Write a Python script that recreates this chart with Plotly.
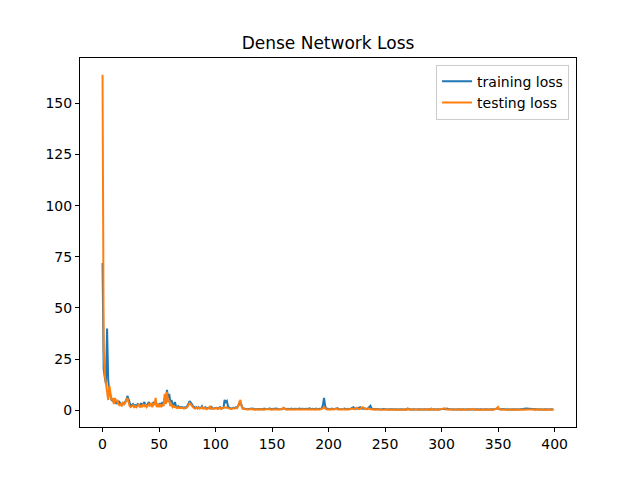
import plotly.graph_objects as go

# loss per epoch
train_loss = [
    72, 20, 16, 13, 40, 15, 9, 6, 5, 4.5, 5, 4, 3.5, 5, 3, 4, 3, 2.5, 3.5, 3,
    4, 5, 7, 5, 3, 2, 2.5, 3, 2, 2.5, 2, 3, 2.5, 2, 3.5, 2, 3, 4, 2.5, 2,
    3, 4, 2.5, 3, 2, 4, 3, 4.5, 2, 3, 2, 3.5, 2, 4, 3, 6, 4, 10, 6, 8,
    4, 5, 3, 2.5, 4, 2, 1.5, 2, 1.5, 1.5, 1.2, 1.5, 1, 1.5, 1.2, 2, 3, 4.5, 4, 3,
    2, 1.5, 1.2, 1.5, 1, 1.5, 1, 1.2, 2, 1, 1, 1.5, 0.8, 1, 1.2, 0.8, 2, 1, 0.8, 1,
    1, 1.2, 0.8, 1, 1.5, 0.8, 1, 1.2, 5, 4, 4.5, 2, 1.2, 1, 0.8, 1, 1.2, 1, 1.5, 1.2,
    2, 3, 4, 2.5, 1, 0.8, 0.6, 0.5, 0.5, 0.6, 0.7, 0.5, 0.6, 0.8, 0.5, 0.6, 0.7, 0.5, 0.6, 0.5,
    0.7, 0.6, 0.5, 0.8, 0.6, 0.5, 0.7, 0.6, 0.9, 0.5, 0.6, 0.7, 0.5, 0.6, 0.8, 0.6, 0.5, 0.7, 0.6, 0.5,
    1.0, 0.7, 0.6, 0.5, 0.7, 0.6, 0.5, 0.8, 0.6, 0.5, 0.7, 0.6, 0.5, 0.6, 0.8, 0.5, 0.6, 0.7, 0.5, 0.6,
    0.7, 0.5, 0.6, 0.9, 0.6, 0.5, 0.7, 0.6, 0.5, 0.8, 0.6, 0.5, 0.7, 0.6, 0.9, 2.5, 6, 2, 0.8, 0.6,
    0.7, 0.5, 0.6, 0.8, 0.5, 0.6, 0.7, 0.5, 0.9, 0.6, 0.5, 0.7, 0.6, 0.5, 0.8, 0.6, 0.5, 0.7, 0.6, 0.5,
    0.9, 1.2, 1.5, 0.8, 0.6, 0.7, 1.0, 1.3, 1.5, 0.8, 0.6, 0.7, 0.9, 0.6, 0.5, 1.0, 1.6, 2.2, 0.8, 0.6,
    0.7, 0.5, 0.6, 0.5, 0.7, 0.6, 0.5, 0.4, 0.6, 0.5, 0.4, 0.6, 0.5, 0.4, 0.5, 0.6, 0.4, 0.5, 0.4, 0.6,
    0.5, 0.4, 0.5, 0.6, 0.4, 0.5, 0.4, 0.6, 0.5, 0.4, 0.5, 0.7, 0.4, 0.5, 0.4, 0.6, 0.5, 0.4, 0.5, 0.4,
    0.6, 0.5, 0.4, 0.5, 0.6, 0.4, 0.5, 0.4, 0.6, 0.5, 0.4, 0.5, 0.6, 0.4, 0.5, 0.4, 0.6, 0.5, 0.4, 0.5,
    0.6, 0.5, 0.7, 0.5, 0.6, 0.8, 0.5, 0.6, 0.5, 0.4, 0.6, 0.5, 0.4, 0.5, 0.6, 0.4, 0.5, 0.4, 0.6, 0.5,
    0.4, 0.5, 0.6, 0.4, 0.5, 0.4, 0.6, 0.5, 0.4, 0.5, 0.6, 0.4, 0.5, 0.4, 0.6, 0.5, 0.4, 0.5, 0.4, 0.6,
    0.5, 0.4, 0.5, 0.6, 0.4, 0.5, 0.4, 0.6, 0.5, 0.7, 0.9, 0.5, 0.4, 0.5, 0.6, 0.4, 0.5, 0.4, 0.6, 0.5,
    0.4, 0.5, 0.6, 0.4, 0.5, 0.4, 0.6, 0.5, 0.4, 0.5, 0.6, 0.5, 0.6, 0.7, 0.8, 0.9, 0.8, 0.7, 0.8, 0.6,
    0.5, 0.4, 0.5, 0.6, 0.4, 0.5, 0.4, 0.6, 0.5, 0.4, 0.5, 0.6, 0.4, 0.5, 0.4, 0.5, 0.4, 0.5, 0.4, 0.5,
]

test_loss = [
    164, 30, 17, 12, 10, 5, 12, 9, 5, 6, 3, 6, 4, 5, 3, 2.5, 3, 2, 4, 3,
    3.5, 5, 6, 4, 2, 1.5, 2, 2.5, 1.5, 2, 1.5, 2.5, 3, 1.5, 2.5, 1.5, 3, 2, 2.5, 1.5,
    2.5, 3, 2, 3.5, 1.5, 3.5, 2.5, 6, 1.5, 3, 1.5, 3, 1.5, 3, 2, 8, 3, 9, 4, 5,
    2, 3, 1.5, 2, 1.5, 1.5, 1, 1.5, 1, 1, 1, 1.2, 0.8, 1, 1, 1.5, 2.5, 3.5, 3, 2,
    1.5, 1, 0.8, 1.2, 0.8, 1.2, 0.8, 1, 1.5, 0.8, 0.8, 1.2, 0.5, 0.8, 1, 2, 0.8, 0.8, 0.6, 0.8,
    0.8, 1, 0.6, 0.8, 1.2, 0.6, 0.8, 1, 1.5, 1.2, 1.5, 1, 0.8, 0.8, 0.6, 0.8, 1, 0.8, 1.2, 1,
    2, 4, 5, 2, 0.8, 0.6, 0.5, 0.5, 0.4, 0.5, 0.4, 0.6, 0.5, 0.4, 0.5, 0.3, 0.5, 0.4, 0.6, 0.4,
    0.5, 0.4, 0.6, 0.3, 0.5, 0.4, 0.5, 0.6, 0.4, 0.5, 0.3, 0.5, 0.4, 0.6, 0.4, 0.5, 0.3, 0.5, 0.4, 0.6,
    1.2, 0.6, 0.4, 0.5, 0.3, 0.5, 0.4, 0.6, 0.4, 0.5, 0.3, 0.5, 0.4, 0.6, 0.4, 0.5, 0.3, 0.5, 0.4, 0.6,
    0.4, 0.5, 0.3, 0.5, 0.4, 0.6, 0.4, 0.5, 0.3, 0.5, 0.4, 0.6, 0.4, 0.5, 0.6, 0.9, 1.6, 0.8, 0.5, 0.4,
    0.5, 0.3, 0.5, 0.4, 0.6, 0.4, 0.5, 0.8, 0.4, 0.5, 0.3, 0.5, 0.4, 0.6, 0.4, 0.5, 0.3, 0.5, 0.4, 0.6,
    0.5, 0.8, 0.6, 0.5, 0.9, 1.2, 0.7, 0.5, 0.8, 1.1, 1.5, 1.0, 0.6, 0.5, 0.7, 0.9, 0.6, 0.5, 0.4, 0.5,
    0.4, 0.3, 0.5, 0.3, 0.4, 0.3, 0.2, 0.4, 0.3, 0.2, 0.3, 0.4, 0.3, 0.2, 0.3, 0.4, 0.3, 0.2, 0.3, 0.4,
    0.3, 0.2, 0.3, 0.4, 0.3, 0.2, 0.3, 0.4, 0.3, 0.2, 0.9, 0.4, 0.3, 0.2, 0.3, 0.4, 0.3, 0.2, 0.3, 0.4,
    0.3, 0.2, 0.3, 0.4, 0.3, 0.2, 0.3, 0.4, 0.3, 0.2, 0.3, 0.8, 0.3, 0.2, 0.3, 0.4, 0.3, 0.2, 0.3, 0.4,
    0.3, 0.4, 0.5, 0.9, 0.4, 0.5, 0.3, 0.4, 0.3, 0.2, 0.3, 0.4, 0.3, 0.2, 0.3, 0.4, 0.3, 0.2, 0.3, 0.6,
    0.3, 0.2, 0.3, 0.4, 0.3, 0.2, 0.3, 0.4, 0.7, 0.2, 0.3, 0.4, 0.3, 0.2, 0.3, 0.4, 0.3, 0.2, 0.3, 0.4,
    0.3, 0.2, 0.3, 0.4, 0.3, 0.2, 0.3, 0.4, 0.6, 1.0, 1.6, 0.5, 0.3, 0.2, 0.3, 0.4, 0.3, 0.2, 0.3, 0.4,
    0.3, 0.2, 0.3, 0.4, 0.3, 0.2, 0.3, 0.4, 0.3, 0.2, 0.3, 0.4, 0.3, 0.2, 0.3, 0.4, 0.5, 0.4, 0.3, 0.2,
    0.3, 0.4, 0.3, 0.2, 0.6, 0.2, 0.3, 0.4, 0.3, 0.2, 0.3, 0.4, 0.3, 0.2, 0.3, 0.4, 0.3, 0.2, 0.3, 0.4,
]

epochs = list(range(len(train_loss)))

x_ticks = [0, 50, 100, 150, 200, 250, 300, 350, 400]
y_ticks = [0, 25, 50, 75, 100, 125, 150]

fig = go.Figure()
fig.add_trace(go.Scatter(x=epochs, y=train_loss, mode="lines", name="training loss",
                         line=dict(color="#1f77b4", width=2)))
fig.add_trace(go.Scatter(x=epochs, y=test_loss, mode="lines", name="testing loss",
                         line=dict(color="#ff7f0e", width=2)))

axis_style = dict(showline=True, linecolor="black", linewidth=1, mirror=True,
                  ticks="outside", ticklen=4, tickcolor="black", showgrid=False,
                  zeroline=False, tickfont=dict(family="DejaVu Sans", size=14, color="black"))

# page body adds an 8px offset, so margins are shifted to compensate
fig.update_layout(
    width=640, height=480,
    margin=dict(l=72, r=72, t=50, b=61),
    paper_bgcolor="white", plot_bgcolor="white",
    title=dict(text="Dense Network Loss", x=0.5, xanchor="center", y=0.927, yanchor="middle",
               font=dict(family="DejaVu Sans", size=17, color="black")),
    xaxis=dict(range=[-19.95, 418.95], tickvals=x_ticks, **axis_style),
    yaxis=dict(range=[-8.2, 172.2], tickvals=y_ticks, **axis_style),
    legend=dict(x=0.986, y=0.982, xanchor="right", yanchor="top",
                bgcolor="rgba(255,255,255,0.8)", bordercolor="#cccccc", borderwidth=1,
                tracegroupgap=0, itemwidth=30,
                font=dict(family="DejaVu Sans", size=14, color="black")),
    showlegend=True,
)

fig.write_html("out.html")
